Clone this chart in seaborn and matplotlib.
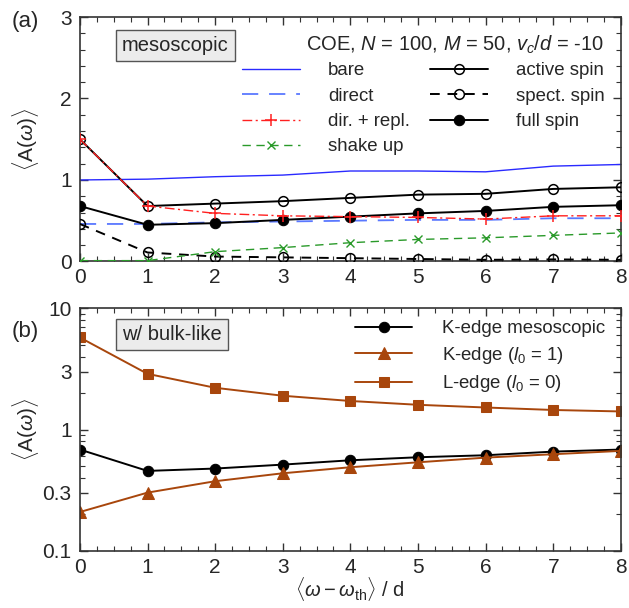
import matplotlib
matplotlib.use("Agg")
import matplotlib.pyplot as plt
import matplotlib.ticker as mticker
import seaborn as sns
import pandas as pd

# energy offset <w - w_th>/d
x_vals = [0, 1, 2, 3, 4, 5, 6, 7, 8]

# panel (a): mesoscopic, COE
bare = [1.00, 1.01, 1.04, 1.06, 1.11, 1.11, 1.10, 1.17, 1.19]
direct = [0.46, 0.46, 0.48, 0.49, 0.50, 0.51, 0.51, 0.53, 0.53]
dir_repl = [1.50, 0.68, 0.59, 0.56, 0.55, 0.54, 0.52, 0.56, 0.56]
shake_up = [0.01, 0.01, 0.12, 0.17, 0.23, 0.27, 0.29, 0.32, 0.35]
active_spin = [1.50, 0.68, 0.71, 0.74, 0.78, 0.82, 0.83, 0.89, 0.91]
spect_spin = [0.46, 0.11, 0.06, 0.05, 0.04, 0.03, 0.02, 0.025, 0.02]
full_spin = [0.68, 0.45, 0.47, 0.51, 0.55, 0.59, 0.62, 0.67, 0.69]

# panel (b): with bulk-like
k_meso = [0.684, 0.456, 0.477, 0.514, 0.558, 0.591, 0.614, 0.658, 0.684]
k_edge = [0.209, 0.302, 0.375, 0.436, 0.489, 0.537, 0.587, 0.626, 0.667]
l_edge = [5.74, 2.88, 2.21, 1.90, 1.72, 1.60, 1.52, 1.45, 1.41]

df_a = pd.DataFrame({"x": x_vals, "bare": bare, "direct": direct,
                     "dir_repl": dir_repl, "shake_up": shake_up,
                     "active": active_spin, "spect": spect_spin,
                     "full": full_spin})
df_b = pd.DataFrame({"x": x_vals, "k_meso": k_meso, "k_edge": k_edge,
                     "l_edge": l_edge})

sns.set_style("ticks")
plt.rcParams["font.family"] = ["Liberation Sans", "DejaVu Sans"]
plt.rcParams["mathtext.fontset"] = "custom"
plt.rcParams["mathtext.it"] = "Liberation Sans:italic"
plt.rcParams["mathtext.rm"] = "Liberation Sans"

BROWN = "#a8460c"
SPINE = "#333333"
TICK_FS = 15
LEG_FS = 13.4

fig = plt.figure(figsize=(6.29, 6.08), dpi=100)
ax_a = fig.add_axes([0.127, 0.570, 0.860, 0.402])
ax_b = fig.add_axes([0.127, 0.094, 0.860, 0.399])


def style_axes(ax):
    for sp in ax.spines.values():
        sp.set_visible(True)
        sp.set_color(SPINE)
        sp.set_linewidth(1.2)
    ax.tick_params(which="both", direction="in", top=True, right=True,
                   color=SPINE, labelsize=TICK_FS, pad=6)
    ax.tick_params(axis="x", which="both", pad=5)
    ax.tick_params(which="major", length=6, width=1.0)
    ax.tick_params(which="minor", length=3.5, width=0.8)
    ax.set_xlim(0, 8)
    ax.xaxis.set_major_locator(mticker.MultipleLocator(1))
    ax.xaxis.set_minor_locator(mticker.MultipleLocator(0.25))


# ---- panel (a)
ms = 7
sns.lineplot(data=df_a, x="x", y="bare", ax=ax_a, color="#2a2aff", lw=1.0,
             label="bare")
sns.lineplot(data=df_a, x="x", y="direct", ax=ax_a, color="#5a78ff", lw=1.3,
             linestyle=(0, (9, 6)), label="direct")
sns.lineplot(data=df_a, x="x", y="dir_repl", ax=ax_a, color="#ff2020", lw=1.0,
             linestyle=(0, (7, 2.5, 1.5, 2.5)), marker="+", markersize=9,
             markeredgewidth=1.1, markeredgecolor="#ff2020",
             label="dir. + repl.", zorder=4)
sns.lineplot(data=df_a, x="x", y="shake_up", ax=ax_a, color="#2a9a2a", lw=1.0,
             linestyle=(0, (6, 4)), marker="x", markersize=5.5,
             markeredgewidth=1.0, markeredgecolor="#2a9a2a",
             label="shake up", zorder=4)
sns.lineplot(data=df_a, x="x", y="active", ax=ax_a, color="black", lw=1.4,
             marker="o", markersize=ms, markerfacecolor="none",
             markeredgecolor="black", markeredgewidth=1.1, label="active spin",
             zorder=3)
sns.lineplot(data=df_a, x="x", y="spect", ax=ax_a, color="black", lw=1.4,
             linestyle=(0, (5, 4)), marker="o", markersize=ms,
             markerfacecolor="none", markeredgecolor="black",
             markeredgewidth=1.1, label="spect. spin", zorder=3)
sns.lineplot(data=df_a, x="x", y="full", ax=ax_a, color="black", lw=1.4,
             marker="o", markersize=ms + 0.5, markerfacecolor="black",
             markeredgecolor="black", label="full spin", zorder=3)

style_axes(ax_a)
ax_a.set_ylim(0, 3)
ax_a.yaxis.set_major_locator(mticker.MultipleLocator(1))
ax_a.yaxis.set_minor_locator(mticker.MultipleLocator(0.2))
ax_a.set_xlabel("")
ax_a.set_ylabel(r"$\langle$A($\omega$)$\rangle$", fontsize=TICK_FS)

handles, labels = ax_a.get_legend_handles_labels()
ax_a.legend(handles, labels, loc="upper left", bbox_to_anchor=(0.30, 0.815),
            ncol=2, frameon=False, fontsize=LEG_FS, handlelength=3.1,
            handletextpad=1.5, columnspacing=1.1, labelspacing=0.45,
            borderaxespad=0, borderpad=0)
ax_a.text(0.968, 0.885, r"COE, $N$ = 100, $M$ = 50, $v_c$/$d$ = -10",
          transform=ax_a.transAxes, ha="right", va="center", fontsize=14.5)
ax_a.text(0.078, 0.885, "mesoscopic", transform=ax_a.transAxes, ha="left",
          va="center", fontsize=14.5,
          bbox=dict(boxstyle="square,pad=0.3", fc="#ececec", ec="#555555",
                    lw=1.0))

# ---- panel (b)
sns.lineplot(data=df_b, x="x", y="k_meso", ax=ax_b, color="black", lw=1.4,
             marker="o", markersize=ms + 0.5, markeredgecolor="black",
             label="K-edge mesoscopic")
sns.lineplot(data=df_b, x="x", y="k_edge", ax=ax_b, color=BROWN, lw=1.4,
             marker="^", markersize=ms + 1, markeredgecolor=BROWN,
             label=r"K-edge ($l_0$ = 1)")
sns.lineplot(data=df_b, x="x", y="l_edge", ax=ax_b, color=BROWN, lw=1.4,
             marker="s", markersize=ms, markeredgecolor=BROWN,
             label=r"L-edge ($l_0$ = 0)")

style_axes(ax_b)
ax_b.set_yscale("log")
ax_b.set_ylim(0.1, 10)
ax_b.yaxis.set_major_locator(mticker.FixedLocator([0.1, 0.3, 1, 3, 10]))
ax_b.yaxis.set_major_formatter(mticker.FixedFormatter(["0.1", "0.3", "1", "3", "10"]))
ax_b.yaxis.set_minor_locator(mticker.LogLocator(base=10, subs=(2, 4, 5, 6, 7, 8, 9)))
ax_b.yaxis.set_minor_formatter(mticker.NullFormatter())
ax_b.set_xlabel(r"$\langle\omega - \omega_{\rm th}\rangle$ / d", fontsize=14.5,
                labelpad=-1)
ax_b.set_ylabel(r"$\langle$A($\omega$)$\rangle$", fontsize=TICK_FS)

ax_b.legend(loc="upper left", bbox_to_anchor=(0.508, 0.95), frameon=False,
            fontsize=LEG_FS, handlelength=3.1, handletextpad=1.6,
            labelspacing=0.4, borderaxespad=0, borderpad=0)
ax_b.text(0.078, 0.891, "w/ bulk-like", transform=ax_b.transAxes, ha="left",
          va="center", fontsize=14.5,
          bbox=dict(boxstyle="square,pad=0.3", fc="#ececec", ec="#555555",
                    lw=1.0))

ax_a.yaxis.set_label_coords(-0.072, 0.5)
ax_b.yaxis.set_label_coords(-0.072, 0.5)

fig.text(0.018, 0.955, "(a)", fontsize=16)
fig.text(0.018, 0.445, "(b)", fontsize=16)

fig.savefig("out.png", dpi=100)
